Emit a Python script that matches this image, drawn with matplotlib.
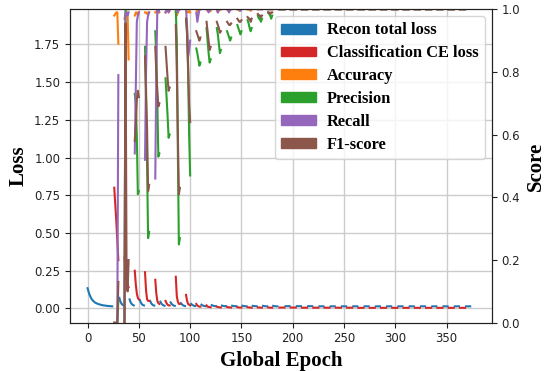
import numpy as np
import matplotlib
matplotlib.use("Agg")
import matplotlib.pyplot as plt
import matplotlib.patches as mpatches

# ---- data ----
# pre-training of the autoencoder (reconstruction only)
pre_epoch = [0, 1, 2, 3, 4, 5, 7, 10, 14, 19, 24]
pre_recon = [0.134, 0.11, 0.09, 0.075, 0.062, 0.053, 0.04, 0.030, 0.022, 0.017, 0.014]

# early rounds: classification phase of 5 epochs starts here, recon phase follows
early_start = [26, 36, 46, 56, 66, 76, 86, 96, 106, 116, 126, 136, 146, 156, 166, 176]

ce_loss = [
    [0.80, 0.69, 0.58, 0.45, 0.32],
    [0.34, 0.27, 0.21, 0.16, 0.14],
    [0.25, 0.16, 0.10, 0.07, 0.06],
    [0.24, 0.12, 0.06, 0.05, 0.05],
    [0.19, 0.10, 0.05, 0.035, 0.03],
    [0.05, 0.035, 0.025, 0.02, 0.02],
    [0.21, 0.08, 0.045, 0.03, 0.03],
    [0.09, 0.05, 0.03, 0.025, 0.02],
    [0.03, 0.02, 0.015, 0.012, 0.012],
    [0.02, 0.012, 0.010, 0.009, 0.008],
    [0.012, 0.009, 0.008, 0.007, 0.007],
    [0.010, 0.008, 0.007, 0.007, 0.006],
    [0.009, 0.007, 0.006, 0.006, 0.006],
    [0.008, 0.007, 0.006, 0.006, 0.005],
    [0.007, 0.006, 0.006, 0.005, 0.005],
    [0.007, 0.006, 0.005, 0.005, 0.005],
]
recon_loss = [
    [0.070, 0.045, 0.032, 0.025, 0.020],
    [0.060, 0.040, 0.030, 0.024, 0.020],
    [0.055, 0.038, 0.028, 0.022, 0.020],
    [0.050, 0.035, 0.026, 0.021, 0.019],
    [0.045, 0.032, 0.025, 0.020, 0.018],
    [0.040, 0.030, 0.023, 0.019, 0.017],
    [0.035, 0.027, 0.021, 0.018, 0.016],
    [0.030, 0.024, 0.020, 0.017, 0.016],
    [0.025, 0.020, 0.018, 0.016, 0.015],
    [0.022, 0.019, 0.017, 0.016, 0.015],
    [0.019, 0.017, 0.016, 0.015, 0.015],
    [0.018, 0.016, 0.015, 0.015, 0.015],
    [0.018, 0.016, 0.015, 0.015, 0.014],
    [0.017, 0.016, 0.015, 0.015, 0.014],
    [0.017, 0.016, 0.015, 0.014, 0.014],
    [0.017, 0.015, 0.015, 0.014, 0.014],
]
accuracy = [
    [0.98, 0.985, 0.99, 0.99, 0.89],
    [0.97, 0.985, 0.99, 0.99, 0.84],
    [0.98, 0.99, 0.99, 0.98, 0.99],
    [0.99, 0.99, 0.985, 0.99, 0.99],
    [0.99, 0.99, 1.0, 0.995, 0.99],
    [0.99, 0.995, 1.0, 0.99, 0.995],
    [0.99, 0.98, 0.99, 1.0, 1.0],
    [1.0, 0.99, 0.99, 0.995, 0.99],
    [1.0, 0.995, 0.99, 1.0, 1.0],
    [1.0, 0.995, 1.0, 1.0, 0.995],
    [1.0, 0.99, 0.995, 1.0, 1.0],
    [1.0, 0.995, 1.0, 1.0, 1.0],
    [1.0, 1.0, 0.995, 1.0, 1.0],
    [1.0, 1.0, 1.0, 0.995, 1.0],
    [1.0, 1.0, 1.0, 1.0, 1.0],
    [1.0, 1.0, 1.0, 1.0, 1.0],
]
precision = [
    [0.0, 0.0, 0.0, 0.0, 0.07],
    [0.0, 1.0, 1.0, 1.0, 1.0],
    [0.73, 0.70, 0.60, 0.41, 0.42],
    [0.88, 0.75, 0.50, 0.27, 0.29],
    [0.93, 0.85, 0.70, 0.53, 0.54],
    [0.78, 0.72, 0.66, 0.59, 0.60],
    [1.0, 0.90, 0.55, 0.25, 0.27],
    [0.97, 0.93, 0.80, 0.60, 0.47],
    [0.875, 0.86, 0.84, 0.82, 0.83],
    [0.94, 0.90, 0.86, 0.83, 0.84],
    [0.94, 0.92, 0.89, 0.86, 0.87],
    [0.93, 0.92, 0.91, 0.90, 0.91],
    [0.95, 0.94, 0.93, 0.92, 0.93],
    [0.965, 0.955, 0.94, 0.93, 0.94],
    [0.98, 0.97, 0.97, 0.96, 0.97],
    [0.99, 0.985, 0.98, 0.97, 0.98],
]
recall = [
    [0.0, 0.0, 0.0, 0.0, 0.79],
    [0.0, 0.99, 0.99, 0.98, 0.99],
    [0.54, 0.75, 0.96, 0.98, 0.99],
    [0.52, 0.80, 0.96, 0.98, 0.99],
    [0.46, 0.80, 1.0, 0.99, 1.0],
    [0.99, 1.0, 1.0, 0.99, 1.0],
    [1.0, 1.0, 0.99, 1.0, 1.0],
    [1.0, 0.95, 0.85, 0.87, 0.90],
    [0.99, 0.96, 0.98, 1.0, 1.0],
    [1.0, 1.0, 0.99, 1.0, 1.0],
    [1.0, 0.99, 1.0, 1.0, 1.0],
    [1.0, 1.0, 0.99, 1.0, 1.0],
    [1.0, 1.0, 1.0, 0.995, 1.0],
    [1.0, 1.0, 1.0, 1.0, 1.0],
    [1.0, 1.0, 1.0, 1.0, 1.0],
    [1.0, 1.0, 1.0, 1.0, 1.0],
]
f1_score = [
    [0.0, 0.0, 0.0, 0.0, 0.13],
    [0.0, 0.955, 0.15, 0.10, 0.20],
    [0.58, 0.63, 0.71, 0.74, 0.72],
    [0.85, 0.72, 0.62, 0.42, 0.44],
    [0.88, 0.80, 0.74, 0.69, 0.70],
    [0.88, 0.83, 0.78, 0.74, 0.75],
    [0.95, 0.80, 0.60, 0.41, 0.43],
    [0.97, 0.92, 0.82, 0.70, 0.64],
    [0.93, 0.92, 0.91, 0.90, 0.91],
    [0.96, 0.93, 0.90, 0.87, 0.88],
    [0.96, 0.95, 0.94, 0.925, 0.93],
    [0.96, 0.955, 0.95, 0.95, 0.955],
    [0.97, 0.965, 0.96, 0.96, 0.965],
    [0.975, 0.97, 0.97, 0.96, 0.97],
    [0.985, 0.98, 0.98, 0.975, 0.98],
    [0.99, 0.99, 0.985, 0.99, 0.99],
]

# later rounds: flat per round (class phase, then recon phase)
late_start = [187, 198, 209, 220, 231, 242, 253, 264, 275, 286, 297, 308, 319, 330, 341, 352, 363]
late_ce = [0.006, 0.006, 0.005, 0.005, 0.005, 0.005, 0.005, 0.004, 0.004, 0.004,
           0.004, 0.004, 0.004, 0.004, 0.004, 0.004, 0.004]
late_recon = [0.015, 0.015, 0.015, 0.014, 0.014, 0.014, 0.014, 0.014, 0.014, 0.014,
              0.014, 0.014, 0.014, 0.014, 0.014, 0.014, 0.014]
late_score = [1.0, 1.0, 1.0, 1.0, 1.0, 1.0, 1.0, 1.0, 1.0, 1.0,
              1.0, 1.0, 1.0, 1.0, 1.0, 1.0, 1.0]

CLS_LEN = 5     # early classification phase length
LATE_CLS = 5    # late class phase spans start .. start+5
LATE_REC = 6    # late recon phase offset


def build(early_vals, offset, late_vals, late_off, late_span, head=None):
    xs, ys = [], []
    if head is not None:
        xs += list(head[0]) + [np.nan]
        ys += list(head[1]) + [np.nan]
    for s, vals in zip(early_start, early_vals):
        xs += [s + offset + i for i in range(len(vals))] + [np.nan]
        ys += list(vals) + [np.nan]
    for s, v in zip(late_start, late_vals):
        xs += [s + late_off, s + late_off + late_span, np.nan]
        ys += [v, v, np.nan]
    return np.array(xs, dtype=float), np.array(ys, dtype=float)


serif = ["Liberation Serif", "DejaVu Serif"]
colors = {"recon": "#1f77b4", "ce": "#d62728", "acc": "#ff7f0e",
          "prec": "#2ca02c", "rec": "#9467bd", "f1": "#8c564b"}

fig, ax = plt.subplots(figsize=(5.55, 3.71), dpi=100)
fig.subplots_adjust(left=0.126, right=0.886, top=0.975, bottom=0.130)
ax2 = ax.twinx()

lw = 1.5
x, y = build(recon_loss, CLS_LEN, late_recon, LATE_REC, 4, head=(pre_epoch, pre_recon))
ax.plot(x, y, color=colors["recon"], lw=lw)
x, y = build(ce_loss, 0, late_ce, 0, LATE_CLS)
ax.plot(x, y, color=colors["ce"], lw=lw)

for key, vals in [("acc", accuracy), ("prec", precision), ("rec", recall), ("f1", f1_score)]:
    x, y = build(vals, 0, late_score, 0, LATE_CLS)
    ax2.plot(x, y, color=colors[key], lw=lw)

ax.set_xlim(-17.2, 394)
ax.set_ylim(-0.095, 1.983)
ax.set_yticks(np.arange(0, 1.76, 0.25))
ax.set_xticks(np.arange(0, 351, 50))
ax.yaxis.set_major_formatter(matplotlib.ticker.FormatStrFormatter("%.2f"))
ax2.set_ylim(0, 1.0)
ax2.set_yticks(np.arange(0, 1.01, 0.2))
ax2.yaxis.set_major_formatter(matplotlib.ticker.FormatStrFormatter("%.1f"))

ax.grid(True, color="#cccccc", lw=1.0)
ax.set_axisbelow(True)
for a in (ax, ax2):
    a.tick_params(labelsize=8.5, colors="#222222")
    for sp in a.spines.values():
        sp.set_color("#222222")

lab = dict(fontsize=15, fontweight="bold", family=serif)
ax.set_xlabel("Global Epoch", **lab)
ax.set_ylabel("Loss", **lab)
ax2.set_ylabel("Score", **lab)

names = ["Recon total loss", "Classification CE loss", "Accuracy", "Precision", "Recall", "F1-score"]
handles = [mpatches.Patch(color=colors[k]) for k in ["recon", "ce", "acc", "prec", "rec", "f1"]]
ax2.legend(handles, names, loc="upper right",
           prop={"family": serif, "weight": "bold", "size": 11.8},
           handlelength=2.1, handleheight=0.55, labelspacing=0.42,
           borderaxespad=0.4, handletextpad=0.7)

fig.savefig("out.png", dpi=100)
